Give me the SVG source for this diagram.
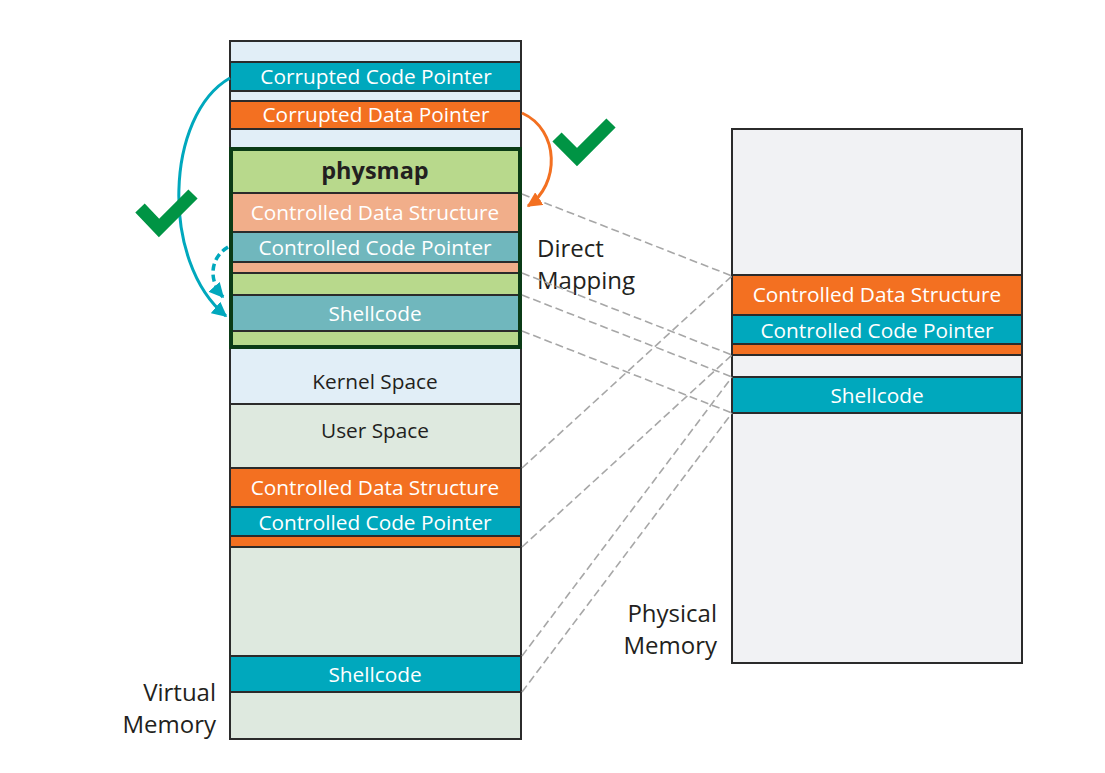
<svg xmlns="http://www.w3.org/2000/svg" width="1105" height="773" viewBox="0 0 1105 773">
<defs>
<style>
.b{stroke:#2b2b2b;stroke-width:2}
.lb{fill:#e1eef7}
.us{fill:#dee9df}
.ph{fill:#f1f2f4}
.teal{fill:#00a8bd}
.org{fill:#f37021}
.grn{fill:#b8d98c}
.sal{fill:#f1ae8a}
.gt{fill:#70b7bd}
text{font-family:"Open Sans","Liberation Sans",sans-serif;text-anchor:middle}
.w{fill:#ffffff;font-size:20.8px}
.d{fill:#231f20;font-size:20.8px}
.lab{fill:#231f20;font-size:24px}
.map{fill:none;stroke:#a7a7a7;stroke-width:1.6;stroke-dasharray:8 4}
.chk{fill:none;stroke:#009444;stroke-width:13;stroke-linejoin:miter;stroke-linecap:butt}
</style>
<marker id="ah-t" viewBox="0 0 10 10" refX="9" refY="5" markerWidth="15" markerHeight="15" markerUnits="userSpaceOnUse" orient="auto"><path d="M0,0 L10,5 L0,10 z" fill="#00a8bd"/></marker>
<marker id="ah-o" viewBox="0 0 10 10" refX="9" refY="5" markerWidth="15" markerHeight="15" markerUnits="userSpaceOnUse" orient="auto"><path d="M0,0 L10,5 L0,10 z" fill="#f37021"/></marker>
</defs>
<rect width="1105" height="773" fill="#ffffff"/>

<g id="virtual-memory">
<rect class="b lb" x="230" y="41" width="291" height="21"/>
<g id="corrupted-code-pointer"><rect class="b teal" x="230" y="62" width="291" height="29"/><text class="w" x="376" y="84">Corrupted Code Pointer</text></g>
<rect class="b lb" x="230" y="91" width="291" height="10"/>
<g id="corrupted-data-pointer"><rect class="b org" x="230" y="101" width="291" height="28"/><text class="w" x="376" y="122">Corrupted Data Pointer</text></g>
<rect class="b lb" x="230" y="129" width="291" height="19"/>
<g id="kernel-space"><rect class="b lb" x="230" y="348" width="291" height="56"/><text class="d" x="375" y="389">Kernel Space</text></g>
<g id="user-space"><rect class="b us" x="230" y="404" width="291" height="64"/><text class="d" x="375" y="438">User Space</text></g>
<g id="v-cds"><rect class="b org" x="230" y="468" width="291" height="39"/><text class="w" x="375" y="495">Controlled Data Structure</text></g>
<g id="v-ccp"><rect class="b teal" x="230" y="507" width="291" height="29"/><text class="w" x="375" y="530">Controlled Code Pointer</text></g>
<rect class="b org" x="230" y="536" width="291" height="11"/>
<rect class="b us" x="230" y="547" width="291" height="109"/>
<g id="v-shellcode"><rect class="b teal" x="230" y="656" width="291" height="36"/><text class="w" x="375" y="682">Shellcode</text></g>
<rect class="b us" x="230" y="692" width="291" height="47"/>
<text class="lab" x="216" y="701" style="text-anchor:end">Virtual</text>
<text class="lab" x="216" y="733" style="text-anchor:end">Memory</text>
</g>

<g id="physmap">
<rect class="b grn" x="231" y="149" width="289" height="44"/>
<text x="375" y="179" style="font-size:23.5px;font-weight:bold;fill:#231f20">physmap</text>
<g id="pm-cds"><rect class="b sal" x="231" y="193" width="289" height="39"/><text class="w" x="375" y="220">Controlled Data Structure</text></g>
<g id="pm-ccp"><rect class="b gt" x="231" y="232" width="289" height="30"/><text class="w" x="375" y="255">Controlled Code Pointer</text></g>
<rect class="b sal" x="231" y="262" width="289" height="11"/>
<rect class="b grn" x="231" y="273" width="289" height="22"/>
<g id="pm-shellcode"><rect class="b gt" x="231" y="295" width="289" height="36"/><text class="w" x="375" y="321">Shellcode</text></g>
<rect class="b grn" x="231" y="331" width="289" height="16"/>
<rect x="231" y="149" width="289" height="198" fill="none" stroke="#0b3b16" stroke-width="4"/>
</g>

<g id="physical-memory">
<rect class="b ph" x="732" y="129" width="290" height="146"/>
<g id="p-cds"><rect class="b org" x="732" y="275" width="290" height="40"/><text class="w" x="877" y="302">Controlled Data Structure</text></g>
<g id="p-ccp"><rect class="b teal" x="732" y="315" width="290" height="29"/><text class="w" x="877" y="338">Controlled Code Pointer</text></g>
<rect class="b org" x="732" y="344" width="290" height="11"/>
<rect class="b ph" x="732" y="355" width="290" height="22"/>
<g id="p-shellcode"><rect class="b teal" x="732" y="377" width="290" height="36"/><text class="w" x="877" y="403">Shellcode</text></g>
<rect class="b ph" x="732" y="413" width="290" height="250"/>
<text class="lab" x="717" y="622" style="text-anchor:end">Physical</text>
<text class="lab" x="717" y="654" style="text-anchor:end">Memory</text>
</g>

<g id="direct-mapping-label">
<text class="lab" x="537" y="257" style="text-anchor:start">Direct</text>
<text class="lab" x="537" y="289" style="text-anchor:start">Mapping</text>
</g>

<g id="connectors">
<path class="map" d="M522,194 L732,276"/>
<path class="map" d="M522,273 L732,355"/>
<path class="map" d="M522,295 L732,377"/>
<path class="map" d="M522,331 L732,413"/>
<path class="map" d="M522,468 L732,276"/>
<path class="map" d="M522,547 L732,355"/>
<path class="map" d="M522,656 L732,377"/>
<path class="map" d="M522,692 L732,413"/>
<path d="M230,78 C165,115 160,262 226,316" fill="none" stroke="#00a8bd" stroke-width="3" marker-end="url(#ah-t)"/>
<path d="M228,247 C210,258 208,280 223,297" fill="none" stroke="#00a8bd" stroke-width="3.5" stroke-dasharray="7 4" marker-end="url(#ah-t)"/>
<path d="M522,113 C560,130 560,185 528,206" fill="none" stroke="#f37021" stroke-width="3" marker-end="url(#ah-o)"/>
</g>

<g id="checkmarks">
<polyline class="chk" points="140,208 159,228 193,194"/>
<polyline class="chk" points="557,137 577,157 611,123"/>
</g>
</svg>
